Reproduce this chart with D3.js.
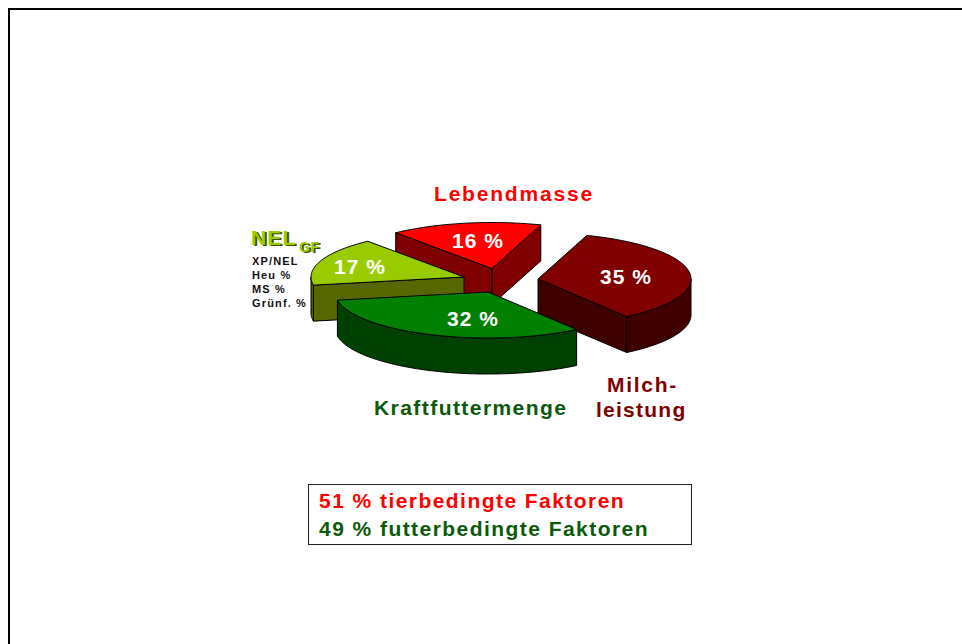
<!DOCTYPE html>
<html><head><meta charset="utf-8">
<script src="https://cdnjs.cloudflare.com/ajax/libs/d3/7.8.5/d3.min.js"></script>
<style>html,body{margin:0;padding:0;background:#fff}svg{display:block}text{font-family:"Liberation Sans",Arial,sans-serif;font-weight:bold}</style>
</head><body><div id="c"></div>
<script>
const categories = ["Milchleistung","Kraftfuttermenge","NEL GF","Lebendmasse"];
const values = [35,32,17,16];
const valueLabels = ["35 %","32 %","17 %","16 %"];
const topColors = ["#800000","#008000","#99cc00","#ff0000"];
const wallColors = ["#400000","#004000","#566600","#800000"];
const nelItems = ["XP/NEL","Heu %","MS %","Grünf. %"];
const summaryLines = ["51 % tierbedingte Faktoren","49 % futterbedingte Faktoren"];

const W=962,H=644;
const svg=d3.select("#c").append("svg").attr("width",W).attr("height",H);
svg.append("path").attr("d",`M9,${H}V9H${W}`).attr("fill","none").attr("stroke","#000").attr("stroke-width",2);

const RX=153,RY=46,DEPTH=36;
const sx=d3.scaleLinear().domain([-1,1]).range([-RX,RX]);
const sy=d3.scaleLinear().domain([-1,1]).range([-RY,RY]);
// each slice's exploded apex on the page
const apexes=[[538,279],[488,292],[464,277],[492,268.5]];
const labelPos=[[626,284],[473,326],[360,274],[478,248]];
const drawOrder=[3,0,2,1];
const rad=d=>d*Math.PI/180;
const arcs=d3.pie().sort(null).value(d=>d).startAngle(rad(18.6)).endAngle(rad(378.6))(values);

const pt=(i,t,dz=0)=>[apexes[i][0]+sx(Math.sin(t)),apexes[i][1]+sy(-Math.cos(t))+dz];
function arcPts(i,a,b,dz){
  const n=Math.max(2,Math.ceil(Math.abs(b-a)/0.02));
  return d3.range(n+1).map(k=>pt(i,a+(b-a)*k/n,dz));
}
const line=d3.line().curve(d3.curveLinear);
const g=svg.append("g");
drawOrder.forEach(i=>{
  const {startAngle:a,endAngle:b}=arcs[i];
  const ap=apexes[i],apB=[ap[0],ap[1]+DEPTH];
  const wall=wallColors[i];
  const common=s=>s.attr("stroke","#000").attr("stroke-width",1).attr("stroke-linejoin","round");
  // a cut face shows only when its outward normal points toward the viewer
  [[a,Math.sin(a)<0],[b,Math.sin(b)>0]].forEach(([t,visible])=>{
    if(!visible) return;
    g.append("path").call(common).attr("fill",wall)
     .attr("d",line([ap,pt(i,t),pt(i,t,DEPTH),apB])+"Z");
  });
  // outer rim: only the front half of the ellipse faces the viewer
  const lo=Math.max(a,Math.PI/2),hi=Math.min(b,Math.PI*1.5);
  if(hi>lo){
    const up=arcPts(i,lo,hi,0),down=arcPts(i,hi,lo,DEPTH);
    g.append("path").call(common).attr("fill",wall).attr("d",line(up.concat(down))+"Z");
  }
  g.append("path").call(common).attr("fill",topColors[i])
   .attr("d",line([ap].concat(arcPts(i,a,b,0)))+"Z");
});
const T=(x,y,s,size,fill,ls,anchor)=>svg.append("text").attr("x",x).attr("y",y).text(s)
  .attr("font-size",size).attr("fill",fill).attr("letter-spacing",ls).attr("text-anchor",anchor||"start");

values.forEach((v,i)=>T(labelPos[i][0],labelPos[i][1],valueLabels[i],21,"#fff",1.0,"middle"));

T(434,200.5,categories[3],21,"#ff0000",1.8);
T(374,415,categories[1],21,"#0a5a0a",1.44);
T(607,392,"Milch-",21,"#800000",1.7);
T(596,417,"leistung",21,"#800000",1.25);

T(251,245,"NEL",21,"#99cc00",1.2).style("text-shadow","2px 1px 0 #3f4d00");
T(299,252,"GF",14,"#99cc00",0.6).style("text-shadow","2px 1px 0 #3f4d00");
nelItems.forEach((s,i)=>T(252,265+i*14,s,11,"#111",1.15));

svg.append("rect").attr("x",308.5).attr("y",484.5).attr("width",383).attr("height",60)
  .attr("fill","#fff").attr("stroke","#222").attr("stroke-width",1);
T(319,508,summaryLines[0],21,"#ff0000",1.45);
T(319,536,summaryLines[1],21,"#0a5a0a",1.45);
</script></body></html>
